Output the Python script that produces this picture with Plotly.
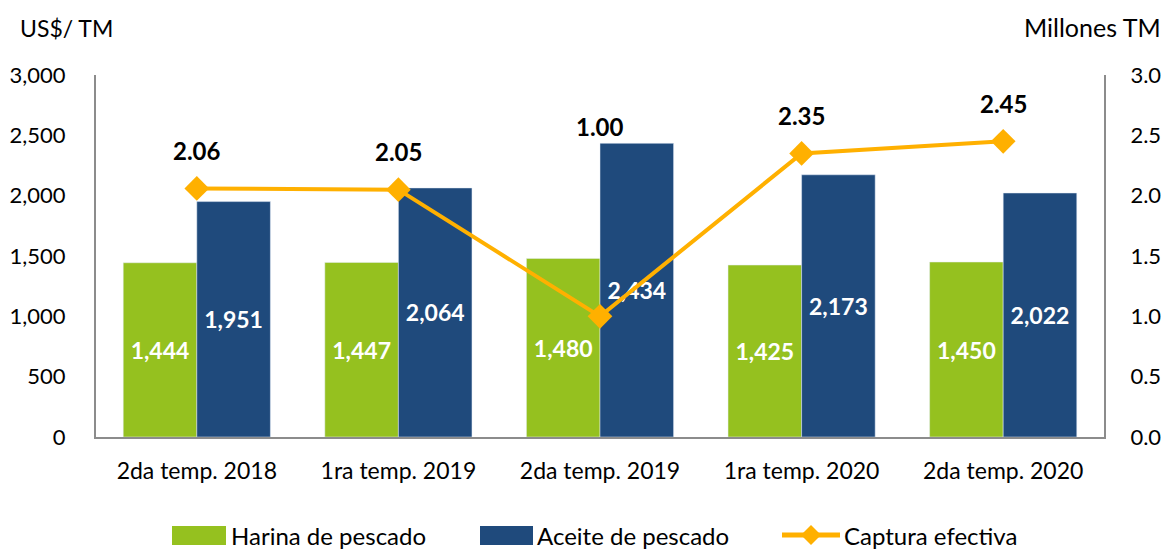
import plotly.graph_objects as go

categories = ["2da temp. 2018", "1ra temp. 2019", "2da temp. 2019", "1ra temp. 2020", "2da temp. 2020"]
harina = [1444, 1447, 1480, 1425, 1450]
aceite = [1951, 2064, 2434, 2173, 2022]
captura = [2.06, 2.05, 1.00, 2.35, 2.45]
captura_label_y = [2.06, 2.05, 2.57, 2.35, 2.45]
captura_label_shift = [38, 38, 0, 38, 38]
series_names = ["Harina de pescado", "Aceite de pescado", "Captura efectiva"]

FONT = "Lato"
GREEN = "#95C11F"
BLUE = "#1F4A7C"
ORANGE = "#FFB000"
AXIS = "#8C8C8C"

# page has an 8px body margin; plot area in page pixels
OFF = 8
W, H = 1176 - OFF, 549 - OFF
L, R, T, B = 96, 1104, 75, 437
def px(x): return (x - L) / (R - L)
def py(y): return (B - y) / (B - T)

fig = go.Figure()
fig.add_trace(go.Bar(
    x=categories, y=harina, name=series_names[0], marker_color=GREEN,
    text=[f"{v:,}" for v in harina], textposition="inside", insidetextanchor="middle",
    textfont=dict(family=FONT, size=23, color="white", weight="bold"), textangle=0,
))
fig.add_trace(go.Bar(
    x=categories, y=aceite, name=series_names[1], marker_color=BLUE,
    text=[f"{v:,}" for v in aceite], textposition="inside", insidetextanchor="middle",
    textfont=dict(family=FONT, size=23, color="white", weight="bold"), textangle=0,
))
fig.add_trace(go.Scatter(
    x=categories, y=captura, name=series_names[2], yaxis="y2",
    mode="lines+markers", line=dict(color=ORANGE, width=4),
    marker=dict(symbol="diamond", size=19, color=ORANGE),
))

annotations = []
for c, v, yv, sh in zip(categories, captura, captura_label_y, captura_label_shift):
    annotations.append(dict(x=c, y=yv, xref="x", yref="y2", yshift=sh, text=f"<b>{v:.2f}</b>",
                            showarrow=False, font=dict(family=FONT, size=24, color="black")))
annotations.append(dict(x=px(18), y=py(28), xref="paper", yref="paper", text="US$/ TM", showarrow=False,
                        font=dict(family=FONT, size=23, color="black"), xanchor="left", yanchor="middle"))
annotations.append(dict(x=px(1163), y=py(27), xref="paper", yref="paper", text="Millones TM", showarrow=False,
                        font=dict(family=FONT, size=25, color="black"), xanchor="right", yanchor="middle"))

# custom legend
shapes = []
legend_y = 535
shapes.append(dict(type="rect", xref="paper", yref="paper", x0=px(172), x1=px(226), y0=py(545), y1=py(526),
                   fillcolor=GREEN, line=dict(width=0)))
shapes.append(dict(type="rect", xref="paper", yref="paper", x0=px(480), x1=px(533), y0=py(545), y1=py(526),
                   fillcolor=BLUE, line=dict(width=0)))
shapes.append(dict(type="line", xref="paper", yref="paper", x0=px(782), x1=px(840), y0=py(legend_y), y1=py(legend_y),
                   line=dict(color=ORANGE, width=5)))
shapes.append(dict(type="path", xref="paper", yref="paper",
                   path=f"M {px(811)},{py(legend_y-10)} L {px(821)},{py(legend_y)} L {px(811)},{py(legend_y+10)} L {px(801)},{py(legend_y)} Z",
                   fillcolor=ORANGE, line=dict(width=0)))
for xs, name in zip([229, 535, 842], series_names):
    annotations.append(dict(x=px(xs), y=py(legend_y), xref="paper", yref="paper", text=name, showarrow=False,
                            xanchor="left", yanchor="middle", font=dict(family=FONT, size=24, color="black")))

fig.update_layout(
    width=W, height=H,
    margin=dict(l=L - OFF, r=1176 - R, t=T - OFF, b=549 - B, autoexpand=False),
    paper_bgcolor="white", plot_bgcolor="white",
    barmode="group", bargap=0.27, bargroupgap=0,
    font=dict(family=FONT, size=20, color="black"),
    showlegend=False,
    xaxis=dict(showline=True, linecolor=AXIS, linewidth=2, ticks="", showgrid=False, automargin=False,
               ticklabelstandoff=12,
               tickfont=dict(family=FONT, size=23, color="black")),
    yaxis=dict(range=[0, 3000], dtick=500, tickformat=",", showgrid=False, zeroline=False, automargin=False,
               showline=True, linecolor=AXIS, linewidth=2, ticks="", ticklabelstandoff=24,
               tickfont=dict(family=FONT, size=22, color="black")),
    yaxis2=dict(range=[0, 3], dtick=0.5, tickformat=".1f", overlaying="y", side="right", automargin=False,
                showgrid=False, zeroline=False, showline=True, linecolor=AXIS, linewidth=2,
                ticks="", ticklabelstandoff=20,
                tickfont=dict(family=FONT, size=22, color="black")),
    annotations=annotations,
    shapes=shapes,
)

fig.write_html("out.html")
